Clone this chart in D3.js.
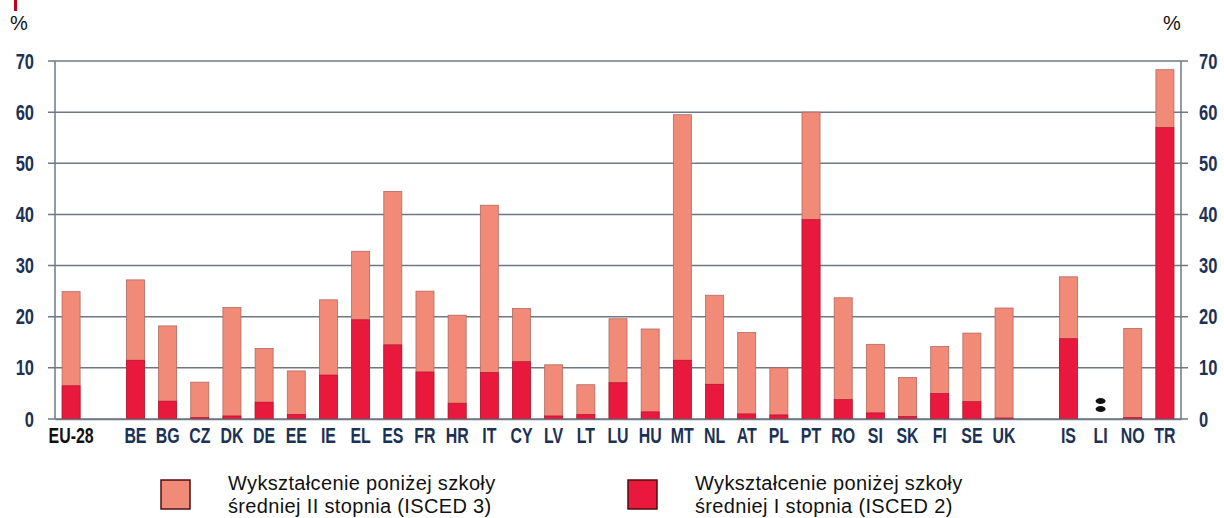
<!DOCTYPE html>
<html lang="pl">
<head>
  <meta charset="UTF-8">
  <title>Wykształcenie poniżej szkoły średniej</title>
  <script src="https://d3js.org/d3.v7.min.js"></script>
  <style>
    body { margin: 0; background: #fff; }
    svg { display: block; }
    .tick-label { font-family: "Liberation Sans", Arial, sans-serif; font-weight: bold; }
    .legend text { font-family: "Liberation Sans", Arial, sans-serif; font-size: 20px; letter-spacing: 0.35px; fill: #111; }
  </style>
</head>
<body>
<svg width="1224" height="518"></svg>
<script>
// categories: EU aggregate, member states, other countries (gaps between groups)
const euAggregate = ["EU-28"];
const memberStates = ["BE", "BG", "CZ", "DK", "DE", "EE", "IE", "EL", "ES", "FR", "HR", "IT", "CY", "LV",
  "LT", "LU", "HU", "MT", "NL", "AT", "PL", "PT", "RO", "SI", "SK", "FI", "SE", "UK"];
const otherCountries = ["IS", "LI", "NO", "TR"];

// % of population below upper secondary (ISCED 3) - total bar height
const belowIsced3 = [24.9,
  27.2, 18.2, 7.2, 21.8, 13.8, 9.4, 23.3, 32.8, 44.5, 25.0, 20.3, 41.8, 21.6, 10.6,
  6.7, 19.6, 17.6, 59.5, 24.2, 16.9, 10.0, 60.0, 23.7, 14.6, 8.1, 14.2, 16.8, 21.7,
  27.8, null, 17.7, 68.3];
// % of population below lower secondary (ISCED 2)
const belowIsced2 = [6.5,
  11.5, 3.5, 0.3, 0.6, 3.3, 0.9, 8.6, 19.4, 14.5, 9.2, 3.1, 9.1, 11.2, 0.6,
  0.9, 7.1, 1.4, 11.5, 6.8, 1.0, 0.8, 39.0, 3.8, 1.2, 0.5, 5.0, 3.4, 0.2,
  15.7, null, 0.3, 57.0];

const yTicks = [0, 10, 20, 30, 40, 50, 60, 70];
const legendLabels = [
  ["Wykształcenie poniżej szkoły", "średniej II stopnia (ISCED 3)"],
  ["Wykształcenie poniżej szkoły", "średniej I stopnia (ISCED 2)"]
];

const countries = [...euAggregate, ...memberStates, ...otherCountries];
const data = countries.map((c, i) => ({ c, total: belowIsced3[i], low: belowIsced2[i] }));
const slots = [...euAggregate, "gap1", ...memberStates, "gap2", ...otherCountries];

const colLight = "#f28a78", colDark = "#e8193c";
const axisCol = "#6e7884", labelCol = "#1b3256";

// squeeze bold text to look like a narrow face
function condense(sel, f) {
  sel.each(function () {
    const len = this.getComputedTextLength();
    if (len > 0) d3.select(this).attr("textLength", len * f).attr("lengthAdjust", "spacingAndGlyphs");
  });
}

const svg = d3.select("svg");
const margin = { top: 61, right: 43, bottom: 99, left: 55 };
const width = 1224 - margin.left - margin.right;
const height = 518 - margin.top - margin.bottom;
const g = svg.append("g").attr("transform", `translate(${margin.left},${margin.top})`);

const x = d3.scaleBand().domain(slots).range([0, width]).paddingInner(0.44).paddingOuter(0.22);
const y = d3.scaleLinear().domain([0, 70]).range([height, 0]);

// gridlines
g.append("g").selectAll("line").data(yTicks).join("line")
  .attr("x1", -7).attr("x2", width + 7)
  .attr("y1", d => y(d)).attr("y2", d => y(d))
  .attr("stroke", axisCol).attr("stroke-width", 1.5);

// frame sides
g.append("line").attr("x1", 0).attr("x2", 0).attr("y1", 0).attr("y2", height)
  .attr("stroke", axisCol).attr("stroke-width", 1.5);
g.append("line").attr("x1", width).attr("x2", width).attr("y1", 0).attr("y2", height)
  .attr("stroke", axisCol).attr("stroke-width", 1.5);

// y axes (left and right)
const yLeft = g.append("g").call(d3.axisLeft(y).tickValues(yTicks).tickSize(0).tickPadding(21));
const yRight = g.append("g").attr("transform", `translate(${width},0)`)
  .call(d3.axisRight(y).tickValues(yTicks).tickSize(0).tickPadding(18));
[yLeft, yRight].forEach(a => {
  a.select(".domain").remove();
  a.selectAll("text").attr("class", "tick-label").attr("font-size", 22).attr("fill", labelCol)
    .call(condense, 0.75);
});

// bars
const bars = g.append("g").selectAll("g").data(data.filter(d => d.total != null)).join("g");
bars.append("rect")
  .attr("x", d => x(d.c)).attr("width", x.bandwidth())
  .attr("y", d => y(d.total)).attr("height", d => y(0) - y(d.total))
  .attr("fill", colLight).attr("stroke", "#b06a60").attr("stroke-width", 0.8);
bars.append("rect")
  .attr("x", d => x(d.c)).attr("width", x.bandwidth())
  .attr("y", d => y(d.low)).attr("height", d => y(0) - y(d.low))
  .attr("fill", colDark).attr("stroke", "#a8112e").attr("stroke-width", 0.6);

// not available marker ":"
const na = g.append("g").selectAll("g").data(data.filter(d => d.total == null)).join("g")
  .attr("transform", d => `translate(${x(d.c) + x.bandwidth() / 2},${y(0)})`);
na.selectAll("ellipse").data([-18, -10]).join("ellipse")
  .attr("cx", 0).attr("cy", d => d).attr("rx", 5).attr("ry", 3).attr("fill", "#111");

// x axis
const xAxis = g.append("g").attr("transform", `translate(0,${height})`)
  .call(d3.axisBottom(x).tickSize(0).tickPadding(9).tickFormat(d => d.startsWith("gap") ? "" : d));
xAxis.select(".domain").attr("stroke", axisCol).attr("stroke-width", 1.5);
xAxis.selectAll("text").attr("class", "tick-label").attr("font-size", 21.5)
  .attr("fill", d => d === "EU-28" ? "#111" : labelCol)
  .call(condense, 0.74);

// % labels and corner mark
svg.append("rect").attr("x", 14).attr("y", 0).attr("width", 3).attr("height", 11).attr("fill", "#c00018");
svg.append("text").attr("x", 10).attr("y", 30)
  .attr("font-family", "Liberation Sans, Arial, sans-serif").attr("font-size", 20).attr("fill", "#111").text("%");
svg.append("text").attr("x", 1163).attr("y", 30)
  .attr("font-family", "Liberation Sans, Arial, sans-serif").attr("font-size", 20).attr("fill", "#111").text("%");

// legend
const legend = svg.append("g").attr("class", "legend");
const legendItems = [{ x: 161, col: colLight, lines: legendLabels[0] }, { x: 628, col: colDark, lines: legendLabels[1] }];
legendItems.forEach(it => {
  legend.append("rect").attr("x", it.x).attr("y", 480).attr("width", 29).attr("height", 29)
    .attr("fill", it.col).attr("stroke", "#4a1010").attr("stroke-width", 1.5);
  legend.append("text").attr("x", it.x + 67).attr("y", 490)
    .selectAll("tspan").data(it.lines).join("tspan")
    .attr("x", it.x + 67).attr("dy", (d, i) => i === 0 ? 0 : 22.5).text(d => d);
});
</script>
</body>
</html>
